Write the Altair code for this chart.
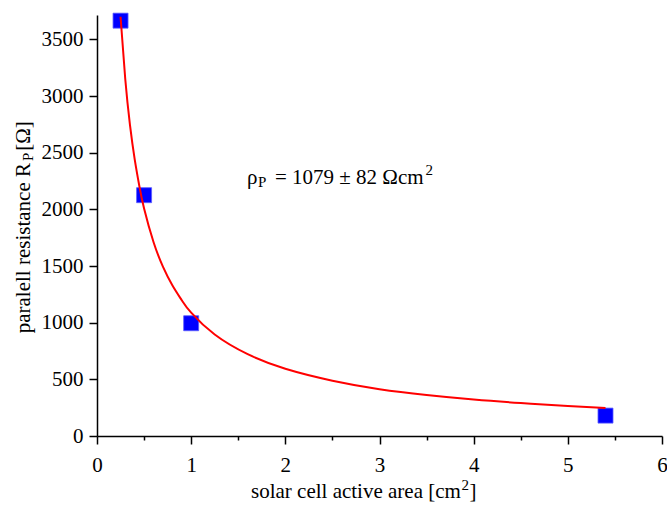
import altair as alt
import pandas as pd

# measured data points
area = [0.25, 0.5, 1.0, 5.4]
resistance = [3665, 2125, 995, 180]

# fitted curve
fit_area = [0.25, 0.30, 0.35, 0.40, 0.45, 0.50, 0.60, 0.70, 0.80, 0.90, 1.00,
            1.25, 1.60, 2.00, 2.50, 3.00, 3.50, 4.00, 4.50, 5.00, 5.40]
fit_res = [3700, 3150, 2745, 2444, 2204, 2008, 1712, 1495, 1330, 1198, 1088,
           895, 722, 593, 488, 413, 362, 322, 291, 265, 247]

x_ticks = [0, 0.5, 1, 1.5, 2, 2.5, 3, 3.5, 4, 4.5, 5, 5.5, 6]
y_ticks = [0, 250, 500, 750, 1000, 1250, 1500, 1750, 2000, 2250, 2500, 2750,
           3000, 3250, 3500]

FONT = "Liberation Serif, Times New Roman, Times, serif"

pts = pd.DataFrame({"area": area, "res": resistance})
fit = pd.DataFrame({"area": fit_area, "res": fit_res})

xscale = alt.Scale(domain=[0, 6], nice=False, zero=False)
yscale = alt.Scale(domain=[0, 3715], nice=False, zero=False)

common_axis = dict(
    grid=False, domainColor="black", domainWidth=1.5, tickColor="black",
    tickWidth=1.5, labelFont=FONT, labelFontSize=21, labelColor="black",
    title=None, labelFlush=False, labelOverlap=False,
)

xaxis = alt.Axis(
    values=x_ticks,
    labelExpr="datum.value % 1 === 0 ? format(datum.value, 'd') : ''",
    tickSize={"condition": {"test": "datum.value % 1 !== 0", "value": 4}, "value": 8},
    labelPadding=10,
    **common_axis,
)
yaxis = alt.Axis(
    values=y_ticks,
    labelExpr="datum.value % 500 === 0 ? format(datum.value, 'd') : ''",
    tickSize={"condition": {"test": "datum.value % 500 !== 0", "value": 4}, "value": 8},
    labelPadding=6,
    **common_axis,
)

points = alt.Chart(pts).mark_square(
    size=225, color="#0000FF", opacity=1, stroke="#5c5cff", strokeWidth=0.8
).encode(
    x=alt.X("area:Q", scale=xscale, axis=xaxis),
    y=alt.Y("res:Q", scale=yscale, axis=yaxis),
)

curve = alt.Chart(fit).mark_line(
    color="#FF0000", strokeWidth=2, interpolate="natural", clip=True
).encode(
    x=alt.X("area:Q", scale=xscale),
    y=alt.Y("res:Q", scale=yscale),
)


def label(txt, x, y, size=21, align="left", angle=0):
    kw = dict(text=txt, font=FONT, fontSize=size, align=align,
              baseline="alphabetic", color="black")
    if angle:
        kw["angle"] = angle
    return alt.Chart(alt.Data(values=[{}])).mark_text(**kw).encode(
        x=alt.value(x), y=alt.value(y)
    )


texts = [
    # annotation
    label("ρ", 150, 169),
    label("P", 161, 172, size=15),
    label("= 1079 ± 82 Ωcm", 178, 169),
    label("2", 328.5, 160, size=15),
    # x title
    label("solar cell active area [cm", 154, 483),
    label("2", 364.5, 475, size=15),
    label("]", 372.5, 483),
    # y title (rotated)
    label("paralell resistance R", -67.5, 148, align="right", angle=270),
    label("P", -64, 146, size=15, align="left", angle=270),
    label("[Ω]", -67.5, 121, align="center", angle=270),
]

chart = alt.layer(points, curve, *texts).properties(
    width=565,
    height=421,
    autosize=alt.AutoSizeParams(type="none"),
    padding={"left": 97, "top": 15, "right": 5, "bottom": 69},
    background="white",
).configure_view(stroke=None)

chart.save("out.html", embed_options={"renderer": "svg", "actions": False})
